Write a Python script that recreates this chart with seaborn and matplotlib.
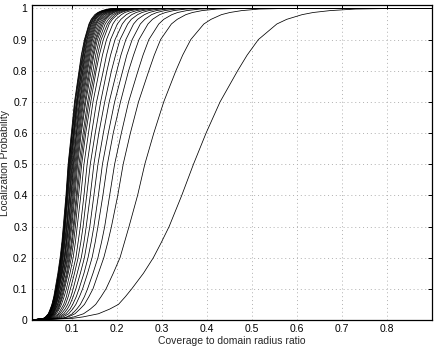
import numpy as np
import pandas as pd
import matplotlib
matplotlib.use("Agg")
import matplotlib.pyplot as plt
from matplotlib.ticker import FormatStrFormatter
import seaborn as sns

prob_levels = [0.005, 0.01, 0.02, 0.035, 0.05, 0.075, 0.1, 0.15, 0.2, 0.25, 0.3, 0.4, 0.5,
               0.6, 0.7, 0.8, 0.85, 0.9, 0.95, 0.965, 0.98, 0.987, 0.993, 0.998, 1.0]

# coverage ratio where each curve reaches the levels above (rightmost curve first)
curve_01 = [0.100, 0.125, 0.159, 0.184, 0.2035, 0.219, 0.233, 0.259, 0.281, 0.299, 0.316, 0.344, 0.370,
            0.398, 0.429, 0.468, 0.489, 0.514, 0.555, 0.577, 0.611, 0.636, 0.673, 0.729, 0.814]
curve_02 = [0.089, 0.105, 0.126, 0.141, 0.153, 0.165, 0.176, 0.192, 0.207, 0.217, 0.227, 0.246, 0.262,
            0.282, 0.304, 0.331, 0.346, 0.364, 0.393, 0.409, 0.432, 0.451, 0.477, 0.516, 0.576]
curve_03 = [0.079, 0.092, 0.107, 0.118, 0.128, 0.138, 0.147, 0.159, 0.171, 0.180, 0.188, 0.202, 0.214,
            0.230, 0.248, 0.271, 0.283, 0.297, 0.321, 0.334, 0.353, 0.368, 0.389, 0.422, 0.471]
curve_04 = [0.078, 0.089, 0.101, 0.111, 0.119, 0.128, 0.135, 0.147, 0.158, 0.166, 0.173, 0.184, 0.195,
            0.210, 0.226, 0.247, 0.258, 0.271, 0.293, 0.304, 0.322, 0.335, 0.355, 0.384, 0.429]
curve_05 = [0.072, 0.081, 0.093, 0.102, 0.109, 0.117, 0.124, 0.135, 0.145, 0.152, 0.158, 0.169, 0.179,
            0.192, 0.208, 0.226, 0.237, 0.249, 0.269, 0.279, 0.295, 0.308, 0.326, 0.353, 0.394]
curve_06 = [0.067, 0.076, 0.087, 0.096, 0.102, 0.110, 0.116, 0.127, 0.136, 0.143, 0.149, 0.159, 0.168,
            0.181, 0.195, 0.213, 0.222, 0.234, 0.252, 0.262, 0.277, 0.289, 0.306, 0.331, 0.370]
curve_07 = [0.063, 0.072, 0.082, 0.090, 0.096, 0.103, 0.109, 0.119, 0.128, 0.134, 0.140, 0.149, 0.158,
            0.170, 0.183, 0.200, 0.209, 0.220, 0.237, 0.246, 0.261, 0.272, 0.288, 0.311, 0.348]
curve_08 = [0.060, 0.068, 0.077, 0.085, 0.091, 0.098, 0.103, 0.112, 0.121, 0.127, 0.132, 0.141, 0.149,
            0.160, 0.173, 0.188, 0.197, 0.207, 0.224, 0.232, 0.246, 0.256, 0.271, 0.294, 0.328]
curve_09 = [0.056, 0.064, 0.073, 0.080, 0.086, 0.092, 0.097, 0.106, 0.114, 0.120, 0.125, 0.133, 0.141,
            0.152, 0.164, 0.178, 0.186, 0.196, 0.212, 0.220, 0.233, 0.243, 0.257, 0.278, 0.310]
curve_10 = [0.054, 0.061, 0.070, 0.076, 0.082, 0.088, 0.092, 0.101, 0.109, 0.114, 0.119, 0.127, 0.134,
            0.144, 0.155, 0.170, 0.177, 0.186, 0.201, 0.209, 0.221, 0.230, 0.244, 0.264, 0.295]
curve_11 = [0.051, 0.058, 0.066, 0.072, 0.077, 0.083, 0.088, 0.096, 0.103, 0.108, 0.112, 0.120, 0.127,
            0.137, 0.147, 0.161, 0.168, 0.177, 0.191, 0.198, 0.210, 0.218, 0.231, 0.250, 0.279]
curve_12 = [0.049, 0.056, 0.063, 0.070, 0.074, 0.080, 0.084, 0.092, 0.099, 0.104, 0.108, 0.115, 0.122,
            0.131, 0.142, 0.154, 0.161, 0.170, 0.183, 0.190, 0.201, 0.210, 0.222, 0.240, 0.268]
curve_13 = [0.048, 0.054, 0.062, 0.068, 0.073, 0.078, 0.082, 0.090, 0.096, 0.101, 0.105, 0.112, 0.119,
            0.128, 0.138, 0.151, 0.157, 0.165, 0.179, 0.186, 0.196, 0.205, 0.217, 0.234, 0.262]
curve_14 = [0.046, 0.053, 0.060, 0.066, 0.071, 0.076, 0.080, 0.088, 0.094, 0.099, 0.103, 0.110, 0.116,
            0.125, 0.135, 0.147, 0.153, 0.161, 0.174, 0.181, 0.191, 0.200, 0.211, 0.229, 0.255]
curve_15 = [0.045, 0.051, 0.059, 0.064, 0.069, 0.074, 0.078, 0.085, 0.092, 0.096, 0.100, 0.107, 0.113,
            0.121, 0.131, 0.143, 0.149, 0.157, 0.170, 0.176, 0.186, 0.194, 0.206, 0.223, 0.249]
curve_16 = [0.044, 0.051, 0.058, 0.063, 0.068, 0.073, 0.077, 0.084, 0.090, 0.094, 0.098, 0.105, 0.111,
            0.119, 0.129, 0.140, 0.147, 0.154, 0.167, 0.173, 0.183, 0.191, 0.202, 0.219, 0.244]
curve_17 = [0.044, 0.050, 0.057, 0.062, 0.066, 0.071, 0.075, 0.082, 0.088, 0.093, 0.096, 0.103, 0.109,
            0.117, 0.126, 0.138, 0.144, 0.152, 0.164, 0.170, 0.180, 0.187, 0.198, 0.215, 0.240]
curve_18 = [0.043, 0.049, 0.056, 0.061, 0.065, 0.070, 0.074, 0.081, 0.087, 0.091, 0.095, 0.101, 0.107,
            0.115, 0.124, 0.135, 0.141, 0.149, 0.161, 0.167, 0.177, 0.184, 0.195, 0.211, 0.235]
curve_19 = [0.042, 0.048, 0.055, 0.060, 0.064, 0.069, 0.072, 0.079, 0.085, 0.089, 0.093, 0.099, 0.105,
            0.113, 0.122, 0.133, 0.139, 0.146, 0.158, 0.164, 0.173, 0.181, 0.191, 0.207, 0.231]
curve_20 = [0.041, 0.047, 0.054, 0.059, 0.063, 0.068, 0.071, 0.078, 0.084, 0.088, 0.092, 0.098, 0.1035,
            0.111, 0.120, 0.131, 0.137, 0.144, 0.155, 0.161, 0.171, 0.178, 0.188, 0.204, 0.228]
curve_21 = [0.041, 0.046, 0.053, 0.058, 0.062, 0.067, 0.070, 0.077, 0.083, 0.087, 0.090, 0.096, 0.102,
            0.110, 0.118, 0.129, 0.135, 0.142, 0.153, 0.159, 0.168, 0.175, 0.186, 0.201, 0.224]
curve_22 = [0.040, 0.046, 0.052, 0.057, 0.061, 0.066, 0.069, 0.076, 0.081, 0.085, 0.089, 0.095, 0.1005,
            0.108, 0.117, 0.127, 0.133, 0.140, 0.151, 0.157, 0.166, 0.173, 0.183, 0.198, 0.221]
curve_23 = [0.040, 0.045, 0.051, 0.056, 0.060, 0.065, 0.068, 0.075, 0.080, 0.084, 0.088, 0.094, 0.099,
            0.106, 0.115, 0.125, 0.131, 0.138, 0.149, 0.154, 0.163, 0.170, 0.180, 0.195, 0.218]
curve_24 = [0.039, 0.044, 0.051, 0.056, 0.060, 0.064, 0.067, 0.074, 0.079, 0.083, 0.086, 0.092, 0.0977,
            0.105, 0.113, 0.124, 0.129, 0.136, 0.147, 0.152, 0.161, 0.168, 0.178, 0.192, 0.215]
curve_25 = [0.039, 0.044, 0.050, 0.055, 0.059, 0.063, 0.067, 0.073, 0.078, 0.082, 0.085, 0.091, 0.0965,
            0.104, 0.112, 0.122, 0.128, 0.134, 0.145, 0.151, 0.159, 0.166, 0.176, 0.190, 0.212]
curve_26 = [0.038, 0.043, 0.050, 0.054, 0.058, 0.062, 0.066, 0.072, 0.077, 0.081, 0.084, 0.090, 0.0954,
            0.103, 0.111, 0.121, 0.126, 0.133, 0.143, 0.149, 0.157, 0.164, 0.174, 0.188, 0.210]
curve_27 = [0.038, 0.043, 0.049, 0.054, 0.058, 0.062, 0.065, 0.071, 0.076, 0.080, 0.084, 0.089, 0.0944,
            0.101, 0.110, 0.119, 0.125, 0.131, 0.142, 0.147, 0.156, 0.162, 0.172, 0.186, 0.208]
curve_28 = [0.037, 0.043, 0.049, 0.053, 0.057, 0.061, 0.065, 0.071, 0.076, 0.079, 0.083, 0.088, 0.0935,
            0.101, 0.108, 0.118, 0.124, 0.130, 0.140, 0.146, 0.154, 0.161, 0.170, 0.184, 0.206]
curve_29 = [0.037, 0.042, 0.048, 0.053, 0.056, 0.061, 0.064, 0.070, 0.075, 0.079, 0.082, 0.088, 0.0926,
            0.100, 0.107, 0.117, 0.122, 0.129, 0.139, 0.144, 0.153, 0.159, 0.169, 0.182, 0.204]
curve_30 = [0.037, 0.042, 0.048, 0.052, 0.056, 0.060, 0.063, 0.069, 0.074, 0.078, 0.081, 0.087, 0.0918,
            0.099, 0.106, 0.116, 0.121, 0.128, 0.138, 0.143, 0.151, 0.158, 0.167, 0.181, 0.202]

x_first = 0.011   # all curves start at zero here
x_last = 0.9      # and sit at one up to here

x_ticks = [0.1, 0.2, 0.3, 0.4, 0.5, 0.6, 0.7, 0.8]
y_ticks = [0, 0.1, 0.2, 0.3, 0.4, 0.5, 0.6, 0.7, 0.8, 0.9, 1]

curves = [curve_01, curve_02, curve_03, curve_04, curve_05, curve_06, curve_07, curve_08,
          curve_09, curve_10, curve_11, curve_12, curve_13, curve_14, curve_15, curve_16,
          curve_17, curve_18, curve_19, curve_20, curve_21, curve_22, curve_23, curve_24,
          curve_25, curve_26, curve_27, curve_28, curve_29, curve_30]

rows = []
for i, xs in enumerate(curves):
    rows.append((i, x_first, 0.0))
    for x, p in zip(xs, prob_levels):
        rows.append((i, x, p))
    rows.append((i, x_last, 1.0))
df = pd.DataFrame(rows, columns=['curve', 'ratio', 'prob'])

sns.set_style('white')
plt.rcParams['font.family'] = ['Liberation Sans', 'DejaVu Sans']

fig = plt.figure(figsize=(4.36, 3.47), dpi=100)
ax = fig.add_axes([0.0727, 0.0778, 0.9188, 0.9069])

sns.lineplot(data=df, x='ratio', y='prob', units='curve', estimator=None,
             color='black', linewidth=0.55, ax=ax, legend=False)

ax.set_xlim(x_first, x_last)
ax.set_ylim(0, 1.01)
ax.set_xticks(x_ticks)
ax.set_yticks(y_ticks)
ax.xaxis.set_major_formatter(FormatStrFormatter('%g'))
ax.yaxis.set_major_formatter(FormatStrFormatter('%g'))
ax.grid(True, linestyle=(0, (1, 3)), color='#b0b0b0', linewidth=0.7)
ax.tick_params(direction='in', length=3, width=0.7, labelsize=7.5, colors='black',
               top=True, right=True, pad=3)
for side in ['left', 'bottom', 'top', 'right']:
    ax.spines[side].set_color('black')
    ax.spines[side].set_linewidth(0.9)

ax.set_xlabel('Coverage to domain radius ratio', fontsize=7.5, labelpad=1)
ax.set_ylabel('Localization Probability', fontsize=7.5, labelpad=2)

fig.savefig('out.png', dpi=100)
